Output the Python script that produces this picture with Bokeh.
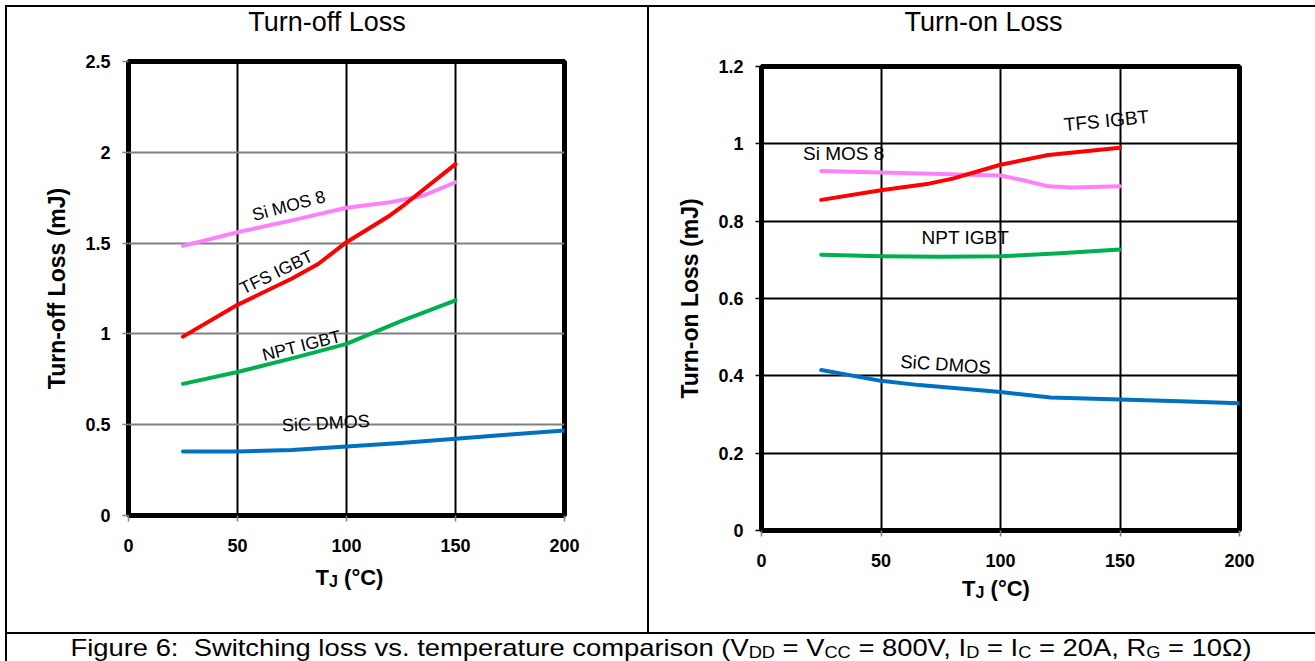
from bokeh.plotting import figure
from bokeh.models import Range1d, FixedTicker, Div, ColumnDataSource
from bokeh.layouts import row, column
from bokeh.embed import file_html
from bokeh.resources import INLINE
from bokeh.core.properties import value

FONT = "Liberation Sans"

# ---------------- data ----------------
x_ticks = [0, 50, 100, 150, 200]
x_tick_labels = ["0", "50", "100", "150", "200"]
off_y_ticks = [0, 0.5, 1, 1.5, 2, 2.5]
off_y_tick_labels = ["0", "0.5", "1", "1.5", "2", "2.5"]
on_y_ticks = [0, 0.2, 0.4, 0.6, 0.8, 1, 1.2]
on_y_tick_labels = ["0", "0.2", "0.4", "0.6", "0.8", "1", "1.2"]

# Turn-off loss (mJ)
off_simos_x = [25, 50, 75, 100, 120, 135, 150]
off_simos8 = [1.485, 1.56, 1.625, 1.695, 1.725, 1.76, 1.835]
off_tfs_x = [25, 50, 75, 87, 100, 119, 127, 150]
off_tfs = [0.985, 1.16, 1.305, 1.385, 1.505, 1.645, 1.715, 1.935]
off_npt_x = [25, 50, 75, 100, 125, 150]
off_npt = [0.725, 0.79, 0.865, 0.945, 1.07, 1.185]
off_sic_x = [25, 50, 75, 100, 125, 150, 175, 200]
off_sic = [0.352, 0.352, 0.361, 0.38, 0.399, 0.422, 0.446, 0.468]

# Turn-on loss (mJ)
on_simos_x = [25, 50, 75, 100, 110, 120, 130, 150]
on_simos8 = [0.93, 0.926, 0.922, 0.918, 0.905, 0.89, 0.887, 0.89]
on_tfs_x = [25, 50, 70, 80, 100, 120, 150]
on_tfs = [0.855, 0.88, 0.897, 0.91, 0.946, 0.971, 0.99]
on_npt_x = [25, 50, 75, 100, 125, 150]
on_npt = [0.713, 0.709, 0.708, 0.709, 0.717, 0.727]
on_sic_x = [25, 50, 66, 100, 121, 150, 175, 200]
on_sic = [0.415, 0.387, 0.376, 0.358, 0.344, 0.339, 0.334, 0.329]

series_names = ["Si MOS 8", "TFS IGBT", "NPT IGBT", "SiC DMOS"]
series_colors = ["#FF80FF", "#FF0000", "#00B050", "#0070C0"]

# in-chart label annotations
off_lbl_x = [73.5, 67.8, 79.4, 90.5]
off_lbl_y = [1.707, 1.34, 0.936, 0.508]
off_lbl_angle = [15, 26, 14, 3]
off_lbl_size = ["17.5px", "17.5px", "17.5px", "18px"]
on_lbl_x = [34.4, 144.3, 85.3, 77.0]
on_lbl_y = [0.976, 1.060, 0.758, 0.430]
on_lbl_angle = [0, 5.5, 0, -3.8]
on_lbl_size = ["19px", "19px", "19px", "18.5px"]


def make_fig(width, height, left, right, top, bottom, ymax, yticks, ylabels,
             ylabel, ygrid_color, ytick_color):
    p = figure(width=width, height=height,
               x_range=Range1d(0, 200), y_range=Range1d(0, ymax),
               output_backend="svg", toolbar_location=None,
               min_border_left=left, min_border_right=right,
               min_border_top=top, min_border_bottom=bottom, margin=0)
    p.title.visible = False
    p.background_fill_color = "white"
    p.border_fill_color = "white"
    p.outline_line_color = "black"
    p.outline_line_width = 5
    p.outline_line_alpha = 1

    p.xaxis.ticker = FixedTicker(ticks=x_ticks)
    p.xaxis.major_label_overrides = dict(zip(x_ticks, x_tick_labels))
    p.yaxis.ticker = FixedTicker(ticks=yticks)
    p.yaxis.major_label_overrides = dict(zip(yticks, ylabels))
    for ax in (p.xaxis, p.yaxis):
        ax.axis_line_color = None
        ax.major_tick_in = 0
        ax.major_tick_out = 6
        ax.major_tick_line_width = 1.5
        ax.minor_tick_line_color = None
        ax.major_label_text_font = FONT
        ax.major_label_text_font_style = "bold"
        ax.major_label_text_font_size = "18px"
        ax.major_label_text_color = "black"
    p.yaxis.major_label_standoff = 12
    p.xaxis.major_label_standoff = 17
    p.xaxis.major_tick_line_color = "#808080"
    p.yaxis.major_tick_line_color = ytick_color

    p.yaxis.axis_label = ylabel
    p.yaxis.axis_label_text_font = FONT
    p.yaxis.axis_label_text_font_style = "bold"
    p.yaxis.axis_label_text_font_size = "23px"
    p.yaxis.axis_label_text_color = "black"
    p.yaxis.axis_label_standoff = 12

    p.xgrid.grid_line_color = "black"
    p.xgrid.grid_line_width = 2
    p.ygrid.grid_line_color = ygrid_color
    p.ygrid.grid_line_width = 2
    return p


def box(w, h, color=None, text="", styles=None):
    st = {} if styles is None else dict(styles)
    if color is not None:
        st["background-color"] = color
    return Div(text=text, width=w, height=h, margin=0, styles=st)


def title_div(w, h, text, indent):
    return box(w, h, text=text, styles={
        "font-family": "'Liberation Sans', Arial, sans-serif", "font-size": "27px",
        "line-height": "30px", "text-align": "center", "text-indent": f"{indent}px",
        "color": "black", "white-space": "nowrap", "overflow": "hidden"})


def xlabel_div(w, h, line_h, indent):
    html = ('T<span style="font-size:16px; position:relative; top:2px; line-height:1">J</span>'
            '&nbsp;(°C)')
    return box(w, h, text=html, styles={
        "font-family": "'Liberation Sans', Arial, sans-serif", "font-size": "22px",
        "font-weight": "bold", "line-height": f"{line_h}px", "text-align": "center",
        "text-indent": f"{indent}px", "color": "black", "white-space": "nowrap",
        "overflow": "hidden"})


# ---------------- left chart ----------------
p1 = make_fig(640, 518, 121, 83, 19, 45, 2.5, off_y_ticks, off_y_tick_labels,
              "Turn-off Loss (mJ)", "#808080", "#808080")
for xs, ys, c in zip([off_simos_x, off_tfs_x, off_npt_x, off_sic_x],
                     [off_simos8, off_tfs, off_npt, off_sic], series_colors):
    p1.line(xs, ys, line_color=c, line_width=4, line_cap="round", line_join="round")
src1 = ColumnDataSource(dict(x=off_lbl_x, y=off_lbl_y, t=series_names,
                             a=off_lbl_angle, s=off_lbl_size))
p1.text(x="x", y="y", text="t", angle="a", angle_units="deg", text_font_size="s",
        source=src1, text_font=value(FONT), text_align="center",
        text_baseline="middle", text_color="black")

# ---------------- right chart ----------------
p2 = make_fig(666, 528, 112, 76, 19, 45, 1.2, on_y_ticks, on_y_tick_labels,
              "Turn-on Loss (mJ)", "black", "black")
for xs, ys, c in zip([on_simos_x, on_tfs_x, on_npt_x, on_sic_x],
                     [on_simos8, on_tfs, on_npt, on_sic], series_colors):
    p2.line(xs, ys, line_color=c, line_width=4, line_cap="round", line_join="round")
src2 = ColumnDataSource(dict(x=on_lbl_x, y=on_lbl_y, t=series_names,
                             a=on_lbl_angle, s=on_lbl_size))
p2.text(x="x", y="y", text="t", angle="a", angle_units="deg", text_font_size="s",
        source=src2, text_font=value(FONT), text_align="center",
        text_baseline="middle", text_color="black")

left_col = column(title_div(640, 35, "Turn-off Loss", 0), p1,
                  xlabel_div(640, 72, 35, 45), spacing=0)
right_col = column(title_div(666, 40, "Turn-on Loss", 3), p2,
                   xlabel_div(666, 57, 28, 28), spacing=0)

sub = '<span style="font-size:16px; position:relative; top:2px; line-height:1">{}</span>'
caption_html = (
    '<span style="display:inline-block; transform:scaleX(1.14); white-space:nowrap">'
    'Figure 6:&nbsp; Switching loss vs. temperature comparison (V' + sub.format("DD") +
    ' = V' + sub.format("CC") + ' = 800V, I' + sub.format("D") + ' = I' + sub.format("C") +
    ' = 20A, R' + sub.format("G") + ' = 10&Omega;)</span>')
caption = box(1308, 27, text=caption_html, styles={
    "font-family": "'Liberation Sans', Arial, sans-serif", "font-size": "24px",
    "line-height": "27px", "text-align": "center", "color": "black",
    "white-space": "nowrap", "overflow": "hidden"})

layout = column(
    box(1315, 5),
    row(box(5, 2), box(1310, 2, "black"), spacing=0),
    row(box(5, 625), box(2, 625, "black"), left_col, box(2, 625, "black"), right_col,
        spacing=0),
    row(box(5, 2), box(1310, 2, "black"), spacing=0),
    row(box(5, 27), box(2, 27, "black"), caption, spacing=0),
    spacing=0,
)

open("out.html", "w").write(file_html(layout, INLINE))
